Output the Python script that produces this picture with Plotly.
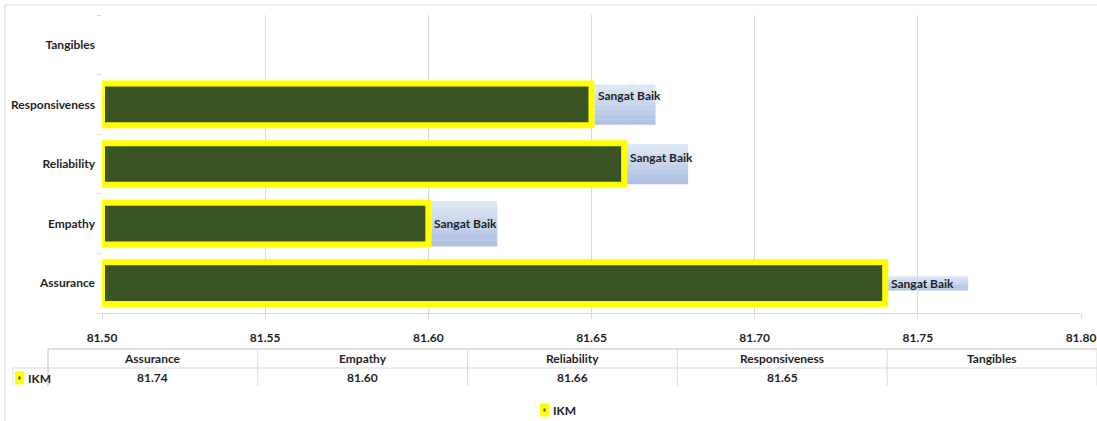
import plotly.graph_objects as go

# ---- data ----
categories = ["Assurance", "Empathy", "Reliability", "Responsiveness", "Tangibles"]
ikm_values = [81.74, 81.60, 81.66, 81.65, None]
value_labels = ["Sangat Baik", "Sangat Baik", "Sangat Baik", "Sangat Baik", None]
series_name = "IKM"
x_ticks = [81.50, 81.55, 81.60, 81.65, 81.70, 81.75, 81.80]

# ---- canvas geometry (pixels) ----
W, H = 1097, 421
L, R, T, B = 102, 1081, 15, 313          # plot area edges
PW, PH = R - L, B - T

FONT = "Lato, Roboto, sans-serif"
TXT = "#1f1f1f"
GRID = "#d9d9d9"
BAR_FILL = "#3a5424"
BAR_EDGE = "#ffff00"
BOLD = dict(family=FONT, size=12, color=TXT, weight="bold")


def px(x):
    return (x - L) / PW


def py(y):
    return (B - y) / PH


axis_min = x_ticks[0]

fig = go.Figure()

# horizontal bars starting at the axis minimum
fig.add_trace(go.Bar(
    y=categories,
    x=[None if v is None else v - axis_min for v in ikm_values],
    base=axis_min,
    orientation="h",
    name=series_name,
    marker=dict(color=BAR_FILL, line=dict(color=BAR_EDGE, width=6)),
    hoverinfo="skip",
    showlegend=False,
))

shapes = []
annotations = []

# value-label boxes: (width, height, text dy) in pixels per category
label_style = {
    "Assurance": (80, 14, 0),
    "Empathy": (66, 45, 0),
    "Reliability": (61, 40, 7),
    "Responsiveness": (61, 40, 9),
}
top_col = (221, 230, 244)
bot_col = (176, 193, 228)
n_strips = 8
for i, (cat, val, lab) in enumerate(zip(categories, ikm_values, value_labels)):
    if val is None or lab is None:
        continue
    w, h, dy = label_style[cat]
    for s in range(n_strips):
        t = s / (n_strips - 1)
        c = tuple(round(top_col[k] + (bot_col[k] - top_col[k]) * t) for k in range(3))
        y_hi = h / 2 - s * h / n_strips
        y_lo = h / 2 - (s + 1) * h / n_strips
        shapes.append(dict(
            type="rect", xref="x", yref="y",
            xsizemode="pixel", ysizemode="pixel",
            xanchor=val, yanchor=i,
            x0=3, x1=3 + w, y0=y_lo - 0.3, y1=y_hi,
            fillcolor="rgb(%d,%d,%d)" % c, line=dict(width=0), layer="below",
        ))
    annotations.append(dict(
        x=val, y=i, xref="x", yref="y", text=lab,
        showarrow=False, xanchor="left", yanchor="middle",
        xshift=4, yshift=dy, font=BOLD,
    ))

# ---- data table under the axis ----
tbl_left, tbl_right = 48, 1097
tbl_top, tbl_mid, tbl_bot = 349, 368, 386
col_w = (tbl_right - tbl_left) / len(categories)

shapes.append(dict(type="line", xref="paper", yref="paper",
                   x0=px(tbl_left), x1=px(tbl_right), y0=py(tbl_top), y1=py(tbl_top),
                   line=dict(color="#bfbfbf", width=1)))
shapes.append(dict(type="line", xref="paper", yref="paper",
                   x0=px(13), x1=px(tbl_right), y0=py(tbl_mid), y1=py(tbl_mid),
                   line=dict(color="#d9d9d9", width=1)))
shapes.append(dict(type="line", xref="paper", yref="paper",
                   x0=px(tbl_left), x1=px(tbl_left), y0=py(tbl_top), y1=py(tbl_bot),
                   line=dict(color="#bfbfbf", width=1)))
shapes.append(dict(type="line", xref="paper", yref="paper",
                   x0=px(13), x1=px(13), y0=py(tbl_mid), y1=py(tbl_bot),
                   line=dict(color="#e3e3e3", width=1)))
for k in range(1, len(categories) + 1):
    xd = tbl_left + k * col_w
    shapes.append(dict(type="line", xref="paper", yref="paper",
                       x0=px(xd), x1=px(xd), y0=py(tbl_top), y1=py(tbl_bot),
                       line=dict(color="#d9d9d9", width=1)))

for k, (cat, val) in enumerate(zip(categories, ikm_values)):
    xc = tbl_left + (k + 0.5) * col_w
    annotations.append(dict(
        x=px(xc), y=py((tbl_top + tbl_mid) / 2), xref="paper", yref="paper",
        text=cat, showarrow=False, xanchor="center", yanchor="middle", font=BOLD))
    if val is not None:
        annotations.append(dict(
            x=px(xc), y=py((tbl_mid + tbl_bot) / 2 + 0.5), xref="paper", yref="paper",
            text="%.2f" % val, showarrow=False, xanchor="center", yanchor="middle",
            font=BOLD))


def series_key(x_left, y_mid, label):
    """Small yellow key with a dark centre followed by the series name."""
    shapes.append(dict(type="rect", xref="paper", yref="paper",
                       x0=px(x_left), x1=px(x_left + 9), y0=py(y_mid + 6.5), y1=py(y_mid - 6.5),
                       fillcolor=BAR_EDGE, line=dict(width=0)))
    shapes.append(dict(type="rect", xref="paper", yref="paper",
                       x0=px(x_left + 3.5), x1=px(x_left + 5.5), y0=py(y_mid + 1.5),
                       y1=py(y_mid - 1.5), fillcolor=BAR_FILL, line=dict(width=0)))
    annotations.append(dict(
        x=px(x_left + 11), y=py(y_mid), xref="paper", yref="paper", text=label,
        showarrow=False, xanchor="left", yanchor="middle", font=BOLD))


# table row header and the chart legend
series_key(15, 378, series_name)
series_key(540, 410, series_name)

# outer chart border
shapes.append(dict(type="rect", xref="paper", yref="paper",
                   x0=px(5), x1=px(W + 10), y0=py(H + 10), y1=py(5),
                   line=dict(color="#d9d9d9", width=1), fillcolor="rgba(0,0,0,0)",
                   layer="below"))

fig.update_layout(
    width=W, height=H,
    margin=dict(l=L, r=W - R, t=T, b=H - B, autoexpand=False),
    paper_bgcolor="white", plot_bgcolor="white",
    font=BOLD,
    bargap=0.3,
    showlegend=False,
    shapes=shapes,
    annotations=annotations,
    xaxis=dict(
        range=[x_ticks[0], x_ticks[-1] + 1e-9],
        tickmode="array",
        tickvals=x_ticks,
        ticktext=["%.2f" % t for t in x_ticks],
        showgrid=True, gridcolor=GRID, gridwidth=1,
        showline=True, linecolor=GRID, linewidth=1,
        ticks="outside", ticklen=5, tickcolor=GRID,
        zeroline=False, fixedrange=True, automargin=False,
        ticklabelstandoff=9,
        tickfont=BOLD,
    ),
    yaxis=dict(
        type="category",
        categoryorder="array", categoryarray=categories,
        tickson="boundaries", ticks="outside", ticklen=4, tickcolor=GRID,
        showgrid=False, showline=False, zeroline=False, automargin=False,
        ticklabelstandoff=6,
        tickfont=BOLD,
    ),
)

fig.write_html("out.html")
